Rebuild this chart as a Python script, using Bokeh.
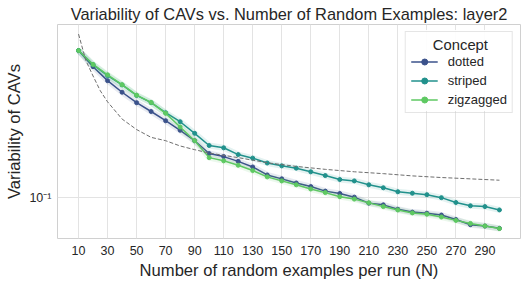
from bokeh.plotting import figure
from bokeh.models import Range1d, FixedTicker, Legend, LegendItem, Label, BoxAnnotation
from bokeh.embed import file_html
from bokeh.resources import INLINE

# ---- data ----
n_values = list(range(10, 301, 10))
dotted = [0.577, 0.476, 0.403, 0.351, 0.310, 0.279, 0.250, 0.223, 0.197, 0.169,
          0.163, 0.154, 0.144, 0.131, 0.125, 0.119, 0.114, 0.108, 0.105, 0.1005,
          0.0936, 0.0917, 0.0870, 0.0841, 0.0830, 0.0812, 0.0770, 0.0724, 0.0712, 0.0693]
striped = [0.577, 0.488, 0.428, 0.383, 0.338, 0.310, 0.275, 0.247, 0.215, 0.186,
           0.181, 0.167, 0.160, 0.151, 0.146, 0.142, 0.136, 0.130, 0.124, 0.122,
           0.1165, 0.1124, 0.1072, 0.1053, 0.1035, 0.0999, 0.0943, 0.0907, 0.0898, 0.0863]
zigzagged = [0.577, 0.489, 0.432, 0.384, 0.339, 0.311, 0.273, 0.232, 0.197, 0.161,
             0.155, 0.147, 0.138, 0.128, 0.122, 0.1165, 0.1108, 0.1061, 0.1011, 0.0982,
             0.0939, 0.0898, 0.0863, 0.0833, 0.0820, 0.0793, 0.0762, 0.0735, 0.0713, 0.0691]
ref_n = [10, 15, 20, 25, 30, 40, 50, 60, 70, 80, 90, 100, 120, 140, 160, 180,
         200, 220, 240, 260, 280, 300]
ref_values = [0.702, 0.513, 0.426, 0.357, 0.313, 0.255, 0.225, 0.205, 0.197, 0.185,
              0.177, 0.170, 0.161, 0.1515, 0.145, 0.140, 0.136, 0.133, 0.1295, 0.127,
              0.125, 0.123]
concepts = ["dotted", "striped", "zigzagged"]
colors = ["#3b528b", "#21918c", "#5ec962"]
x_ticks = list(range(10, 291, 20))
y_ticks = [0.1]
y_tick_labels = {0.1: "10\u207b\u00b9"}
legend_title = "Concept"

FONT = "Liberation Sans"
TXT = "#262626"

p = figure(width=523, height=282,
           x_range=Range1d(-4.5, 314.5), y_range=Range1d(0.0614, 0.787),
           y_axis_type="log", output_backend="svg", toolbar_location=None,
           min_border_left=57, min_border_right=3, min_border_top=22, min_border_bottom=44,
           title="Variability of CAVs vs. Number of Random Examples: layer2")

p.title.align = "center"
p.title.text_font = FONT
p.title.text_font_size = "16.4px"
p.title.text_font_style = "normal"
p.title.text_color = TXT
p.title.standoff = 4

p.background_fill_color = "white"
p.border_fill_color = "white"
p.outline_line_color = "#d0d0d0"
p.outline_line_width = 1

p.xaxis.ticker = FixedTicker(ticks=x_ticks)
p.yaxis.ticker = FixedTicker(ticks=y_ticks, minor_ticks=[])
p.yaxis.major_label_overrides = y_tick_labels
for ax in (p.xaxis, p.yaxis):
    ax.axis_line_color = None
    ax.major_tick_line_color = None
    ax.minor_tick_line_color = None
    ax.major_tick_out = 0
    ax.major_tick_in = 0
    ax.major_label_text_font = FONT
    ax.major_label_text_font_size = "12.5px"
    ax.major_label_text_color = TXT
    ax.axis_label_text_font = FONT
    ax.axis_label_text_font_size = "16.6px"
    ax.axis_label_text_font_style = "normal"
    ax.axis_label_text_color = TXT
p.xaxis.major_label_standoff = 7
p.yaxis.major_label_standoff = 6
p.xaxis.axis_label = "Number of random examples per run (N)"
p.yaxis.axis_label = "Variability of CAVs"
p.xaxis.axis_label_standoff = 3
p.yaxis.axis_label_standoff = 2

p.xgrid.grid_line_color = "#e3e3e3"
p.ygrid.grid_line_color = "#e3e3e3"
p.xgrid.grid_line_width = 1
p.ygrid.grid_line_width = 1

items = []
for name, vals, col in zip(concepts, [dotted, striped, zigzagged], colors):
    p.line(n_values, vals, line_color=col, line_width=6, line_alpha=0.12)
    ln = p.line(n_values, vals, line_color=col, line_width=1.5)
    sc = p.scatter(n_values, vals, size=4, fill_color=col, line_color=col)
    items.append(LegendItem(label=name, renderers=[ln, sc]))

p.line(ref_n, ref_values, line_color="#6e6e6e", line_width=1, line_dash="4 2")

# white backing for the legend (frame-relative screen units)
legend_bg = BoxAnnotation(left=350.5, right=455.5, top=208.5, bottom=127.5,
                          left_units="screen", right_units="screen",
                          top_units="screen", bottom_units="screen",
                          fill_color="white", fill_alpha=0.9, line_color=None)
p.add_layout(legend_bg)

title_label = Label(x=402.9, y=193.3, x_units="screen", y_units="screen",
                    text=legend_title, text_align="center", text_baseline="alphabetic",
                    text_font=FONT, text_font_size="14.8px", text_color=TXT)
p.add_layout(title_label)

legend = Legend(items=items, location="top_right", title="\u00a0")
legend.title_text_font = FONT
legend.title_text_font_size = "14.8px"
legend.title_standoff = 1
legend.label_text_font = FONT
legend.label_text_font_size = "13px"
legend.label_text_color = TXT
legend.glyph_width = 27
legend.glyph_height = 15
legend.label_height = 15
legend.label_standoff = 10
legend.spacing = 4
legend.padding = 5
legend.margin = 7
legend.border_line_color = "#cccccc"
legend.background_fill_alpha = 0
p.add_layout(legend)

open("out.html", "w").write(file_html(p, INLINE))
